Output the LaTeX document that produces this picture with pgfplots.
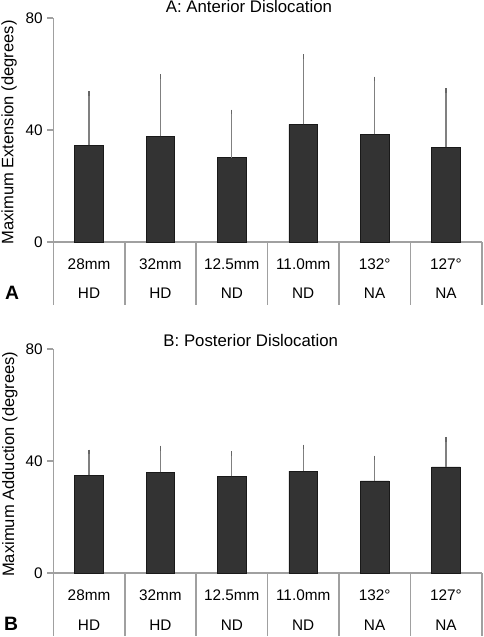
\documentclass[border=0pt]{standalone}
\usepackage{fontspec}
\setmainfont{Liberation Sans}
\usepackage{pgfplots}
\pgfplotsset{compat=1.18}
\definecolor{axisgray}{RGB}{160,160,160}
\definecolor{errgray}{RGB}{128,128,128}
\definecolor{barfill}{RGB}{51,51,51}
\newcommand\tickfont{\fontsize{11.5}{13}\selectfont}
\newcommand\catlabels{%
  \pgfplotsinvokeforeach{-0.5,0.5,1.5,2.5,3.5,4.5,5.5}{\draw[axisgray,line width=1.2pt] (axis cs:##1,0) -- ++(0pt,-47.5pt);}
  \node[anchor=base,yshift=-20.5pt,font=\tickfont] at (axis cs:0,0) {28mm};
  \node[anchor=base,yshift=-20.5pt,font=\tickfont] at (axis cs:1,0) {32mm};
  \node[anchor=base,yshift=-20.5pt,font=\tickfont] at (axis cs:2,0) {12.5mm};
  \node[anchor=base,yshift=-20.5pt,font=\tickfont] at (axis cs:3,0) {11.0mm};
  \node[anchor=base,yshift=-20.5pt,font=\tickfont] at (axis cs:4,0) {132°};
  \node[anchor=base,yshift=-20.5pt,font=\tickfont] at (axis cs:5,0) {127°};
  \node[anchor=base,yshift=-42.75pt,font=\tickfont] at (axis cs:0,0) {HD};
  \node[anchor=base,yshift=-42.75pt,font=\tickfont] at (axis cs:1,0) {HD};
  \node[anchor=base,yshift=-42.75pt,font=\tickfont] at (axis cs:2,0) {ND};
  \node[anchor=base,yshift=-42.75pt,font=\tickfont] at (axis cs:3,0) {ND};
  \node[anchor=base,yshift=-42.75pt,font=\tickfont] at (axis cs:4,0) {NA};
  \node[anchor=base,yshift=-42.75pt,font=\tickfont] at (axis cs:5,0) {NA};
}
\pgfplotsset{panel/.style={
  width=321.3pt, height=168pt, scale only axis,
  xmin=-0.5, xmax=5.5, ymin=0, ymax=80,
  axis x line*=bottom, axis y line*=left,
  axis line style={axisgray, line width=1.2pt, -},
  xtick=\empty, ytick={0,40,80},
  ytick style={axisgray, line width=1.2pt},
  tick align=outside, major tick length=4.5pt,
  yticklabel style={font=\tickfont},
  /pgf/number format/assume math mode=true,
  clip=false,
}}
\pgfplotsset{bars/.style={
  ybar, fill=barfill, draw=black!90, line width=0.4pt, bar width=21.5pt,
  error bars/.cd, y dir=plus, y explicit,
  error bar style={errgray, line width=0.8pt},
  error mark options={black!60, line width=0.9pt, mark size=1.8pt},
}}
\pgfplotstableread{
x y e
0 34.5 18.4
1 37.7 21.3
2 30.1 16.3
3 42.0 24.2
4 38.4 19.8
5 33.8 20.2
}\anterior
\pgfplotstableread{
x y e
0 34.9 8.3
1 35.9 8.7
2 34.5 8.2
3 36.4 8.6
4 32.9 8.2
5 37.9 9.9
}\posterior
\begin{document}
\begin{tikzpicture}
\useasboundingbox (0,0) rectangle (363pt,-477.75pt);
\begin{axis}[panel, at={(40pt,-13.5pt)}, anchor=north west]
\addplot[bars] table[x=x,y=y,y error=e] {\anterior};
\catlabels
\end{axis}
\begin{axis}[panel, at={(40pt,-261.75pt)}, anchor=north west]
\addplot[bars] table[x=x,y=y,y error=e] {\posterior};
\catlabels
\end{axis}
\node[anchor=base,font=\fontsize{12.6}{14}\selectfont] at (186.75pt,-9.5pt) {A: Anterior Dislocation};
\node[anchor=base,font=\fontsize{12.6}{14}\selectfont] at (188.1pt,-259.5pt) {B: Posterior Dislocation};
\node[anchor=base,rotate=90,font=\fontsize{12.4}{14}\selectfont] at (10pt,-99.4pt) {Maximum Extension (degrees)};
\node[anchor=base,rotate=90,font=\fontsize{12.4}{14}\selectfont] at (10.5pt,-348.15pt) {Maximum Adduction (degrees)};
\node[anchor=base,font=\bfseries\fontsize{14.5}{16}\selectfont] at (9pt,-224.25pt) {A};
\node[anchor=base,font=\bfseries\fontsize{14.5}{16}\selectfont] at (8.25pt,-472.5pt) {B};
\end{tikzpicture}
\end{document}
